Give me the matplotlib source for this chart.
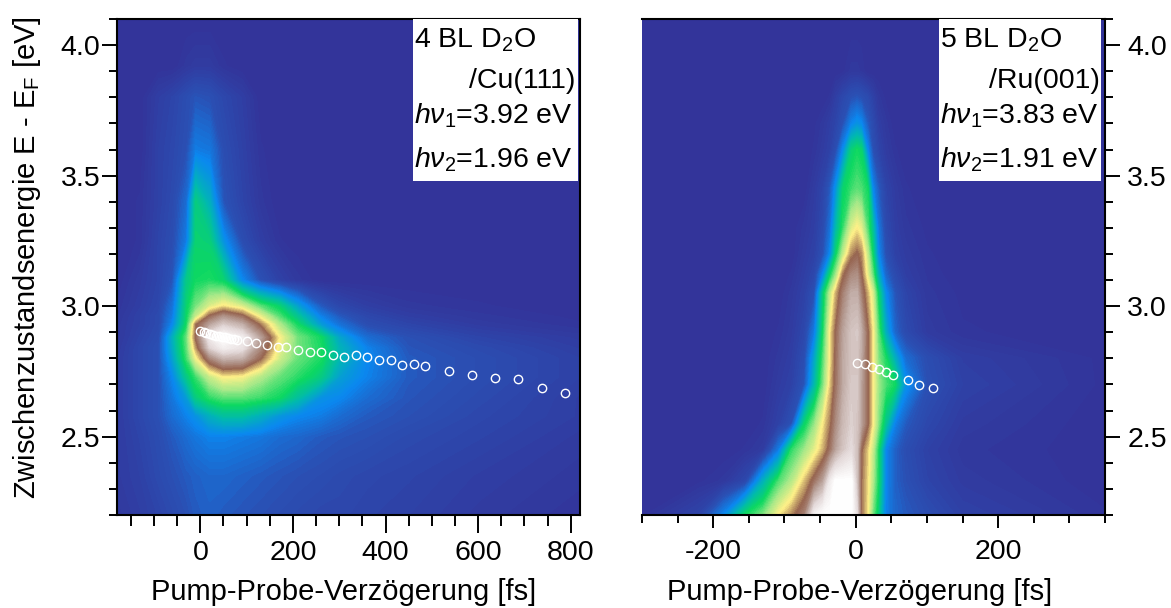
import matplotlib
matplotlib.use('Agg')
import matplotlib.pyplot as plt
import numpy as np
from matplotlib.colors import LinearSegmentedColormap
from matplotlib.patches import Rectangle
from matplotlib.ticker import MultipleLocator

plt.rcParams['font.family'] = ['Liberation Sans', 'DejaVu Sans']
plt.rcParams['mathtext.fontset'] = 'custom'
plt.rcParams['mathtext.rm'] = 'Liberation Sans'
plt.rcParams['mathtext.it'] = 'Liberation Sans:italic'
plt.rcParams['axes.unicode_minus'] = False

# Left panel: 4 BL D2O/Cu(111), intensity levels (0-10)
delay_cu = [-180, -130, -90, -60, -30, -10, 20, 50, 90, 130, 170, 210, 260, 300, 360, 450, 600, 820]
energy_cu = [4.1, 3.92, 3.8, 3.6, 3.4, 3.25, 3.1, 3.0, 2.96, 2.93, 2.88, 2.84, 2.8, 2.73, 2.65, 2.58, 2.5, 2.35, 2.2]
level_cu = [
    [0, 0, 0, 0, 0, 0, 0, 0, 0, 0, 0, 0, 0, 0, 0, 0, 0, 0],
    [0, 0, 0, 0, .2, .3, .3, .1, 0, 0, 0, 0, 0, 0, 0, 0, 0, 0],
    [0, 0, .4, .6, .9, 1.1, 1.0, .7, .4, 0, 0, 0, 0, 0, 0, 0, 0, 0],
    [0, 0, .5, .7, 1.0, 1.8, 1.7, .9, .5, .1, 0, 0, 0, 0, 0, 0, 0, 0],
    [0, .1, .5, .8, 1.5, 3.6, 2.8, 1.1, .6, .2, 0, 0, 0, 0, 0, 0, 0, 0],
    [0, .1, .6, .9, 1.8, 3.8, 3.7, 2.2, .9, .4, .1, 0, 0, 0, 0, 0, 0, 0],
    [0, .3, .6, 1.1, 3.5, 4.0, 4.1, 3.8, 2.0, 1.0, .5, .2, 0, 0, 0, 0, 0, 0],
    [.1, .4, .7, 1.6, 3.8, 4.7, 5.6, 6.1, 5.6, 4.5, 3.8, 2.5, 1.2, .7, .4, .2, .1, 0],
    [.15, .5, .8, 1.8, 3.9, 5.4, 7.1, 7.8, 7.2, 5.8, 4.5, 3.4, 1.9, 1.2, .7, .4, .2, .05],
    [.2, .5, .8, 2.0, 4.0, 6.8, 8.0, 8.7, 8.2, 6.8, 5.2, 4.0, 2.4, 1.6, .9, .6, .3, .1],
    [.2, .6, .9, 2.8, 4.6, 7.0, 9.4, 10, 9.5, 8.0, 6.0, 4.7, 4.0, 2.6, 1.5, 1.0, .6, .3],
    [.25, .7, 1.0, 2.7, 4.5, 6.5, 8.8, 9.5, 9.2, 7.6, 5.8, 4.7, 4.1, 2.9, 1.9, 1.1, .8, .4],
    [.3, .7, 1.0, 2.5, 4.3, 5.8, 7.5, 8.3, 8.2, 7.0, 5.5, 4.6, 4.1, 3.0, 2.0, 1.2, .9, .5],
    [.3, .7, 1.0, 2.0, 3.5, 4.3, 5.4, 6.0, 5.9, 5.2, 4.6, 4.2, 3.6, 2.5, 1.9, 1.2, .9, .5],
    [.3, .7, 1.0, 1.7, 2.4, 3.6, 4.2, 4.5, 4.5, 4.3, 4.0, 3.2, 2.2, 2.0, 1.5, 1.1, .8, .4],
    [.3, .7, 1.0, 1.5, 1.9, 2.2, 2.8, 3.2, 3.2, 2.8, 2.3, 2.0, 1.8, 1.5, 1.2, 1.0, .7, .4],
    [.3, .6, .9, 1.2, 1.5, 1.7, 1.9, 1.9, 1.8, 1.7, 1.5, 1.4, 1.2, 1.1, 1.0, .8, .6, .3],
    [.3, .5, .8, 1.0, 1.2, 1.3, 1.4, 1.4, 1.3, 1.2, 1.1, 1.0, .9, .8, .7, .6, .4, .2],
    [.2, .4, .6, .8, 1.0, 1.2, 1.3, 1.2, 1.1, 1.0, .9, .8, .7, .7, .6, .5, .3, .1],
]

# Right panel: 5 BL D2O/Ru(001)
delay_ru = [-300, -220, -185, -155, -130, -108, -90, -72, -58, -46, -36, -28, -18, -6, 2, 8, 17, 24, 32, 42, 55, 70, 100, 150, 350]
energy_ru = [4.1, 3.9, 3.8, 3.7, 3.6, 3.45, 3.3, 3.2, 3.12, 3.05, 2.9, 2.8, 2.7, 2.55, 2.45, 2.33, 2.2]
level_ru = [
    [0, 0, 0, 0, 0, 0, 0, 0, 0, 0, 0, 0, 0, 0, 0, 0, 0, 0, 0, 0, 0, 0, 0, 0, 0],
    [0, 0, 0, 0, 0, 0, 0, 0, 0, 0, 0, 0, .05, .2, .2, .15, 0, 0, 0, 0, 0, 0, 0, 0, 0],
    [0, 0, 0, 0, 0, 0, 0, 0, 0, 0, .1, .4, .7, 1.0, 1.1, 1.0, .8, .5, .2, .05, 0, 0, 0, 0, 0],
    [0, 0, 0, 0, 0, 0, 0, 0, .05, .2, .4, .6, 1.0, 1.9, 2.2, 2.0, 1.2, .8, .4, .2, 0, 0, 0, 0, 0],
    [0, 0, 0, 0, 0, 0, 0, 0, .1, .3, .5, .9, 2.0, 3.7, 4.0, 3.8, 2.0, 1.0, .6, .3, .1, 0, 0, 0, 0],
    [0, 0, 0, 0, 0, 0, 0, 0, .3, .6, 1.2, 2.2, 3.8, 4.3, 4.5, 4.4, 4.0, 2.0, 1.2, .6, .3, .1, 0, 0, 0],
    [0, 0, 0, 0, 0, 0, 0, .2, .4, .8, 1.6, 3.0, 4.2, 5.6, 6.0, 5.7, 4.4, 3.3, 1.7, .8, .4, .2, .05, 0, 0],
    [0, 0, 0, 0, 0, 0, 0, .3, .5, 1.0, 2.0, 3.8, 5.3, 6.7, 7.0, 6.7, 5.3, 3.9, 2.0, 1.0, .5, .3, .1, 0, 0],
    [0, 0, 0, 0, 0, 0, .1, .4, .7, 2.0, 3.9, 5.0, 6.8, 7.6, 7.7, 7.0, 5.7, 4.6, 2.8, 1.4, .8, .4, .15, 0, 0],
    [0, 0, 0, 0, 0, 0, .2, .5, 1.0, 3.6, 5.3, 6.4, 7.4, 8.2, 8.2, 7.4, 6.4, 5.6, 3.8, 2.1, 1.1, .6, .2, .05, 0],
    [0, 0, 0, 0, 0, .1, .3, .7, 1.8, 4.0, 6.0, 7.0, 8.0, 8.6, 8.7, 8.2, 7.0, 6.0, 4.5, 2.8, 1.4, .8, .3, .1, 0],
    [0, 0, 0, 0, 0, .2, .4, .9, 2.6, 4.4, 6.0, 7.1, 8.1, 8.6, 8.6, 8.1, 7.0, 6.0, 4.8, 4.1, 2.8, 1.5, .9, .4, .05],
    [0, 0, 0, 0, 0, .3, .5, 1.1, 3.0, 4.7, 6.2, 7.2, 8.1, 8.7, 8.7, 8.0, 7.0, 6.0, 5.0, 4.4, 4.0, 2.2, 1.0, .5, .05],
    [0, 0, 0, 0, .1, .5, 1.0, 3.8, 4.9, 6.0, 6.8, 7.6, 8.4, 8.8, 8.6, 8.0, 7.0, 6.0, 4.8, 3.4, 1.9, 1.2, .7, .3, 0],
    [0, 0, 0, .1, .3, 1.8, 4.2, 5.0, 5.7, 6.4, 7.2, 8.0, 8.6, 9.0, 8.5, 7.0, 6.2, 5.4, 4.0, 2.0, 1.3, .9, .5, .2, 0],
    [0, .05, .2, .7, 2.8, 4.4, 5.2, 6.3, 7.2, 8.0, 9.4, 10, 10, 10, 8.5, 6.9, 6.1, 5.2, 4.0, 2.0, 1.3, 1.0, .6, .3, 0],
    [.05, .6, 2.0, 4.0, 4.8, 6.0, 6.7, 7.5, 9.6, 10, 10, 10, 10, 10, 9.0, 6.9, 6.0, 4.7, 3.6, 1.9, 1.4, 1.2, .9, .5, .1],
]

# Peak positions
peak_delay_cu = [0, 7, 13, 20, 27, 33, 40, 47, 53, 60, 67, 73, 80, 100, 121, 145, 167, 186, 212, 236, 261, 286, 311, 336, 361, 386, 412, 436, 461, 486, 537, 587, 637, 687, 737, 787]
peak_energy_cu = [2.903, 2.90, 2.896, 2.894, 2.89, 2.887, 2.885, 2.882, 2.88, 2.877, 2.875, 2.873, 2.871, 2.868, 2.86, 2.851, 2.845, 2.843, 2.831, 2.826, 2.826, 2.813, 2.807, 2.812, 2.804, 2.794, 2.793, 2.776, 2.78, 2.77, 2.75, 2.737, 2.723, 2.721, 2.687, 2.668]
peak_delay_ru = [2, 13, 23, 33, 42, 53, 73, 89, 108]
peak_energy_ru = [2.784, 2.78, 2.768, 2.758, 2.748, 2.738, 2.716, 2.699, 2.687]

# Colour scale of the map
cmap = LinearSegmentedColormap.from_list('twopp', [
    (0.0, '#333399'), (0.1, '#2a50b4'), (0.2, '#0a88f0'), (0.3, '#00b8b0'),
    (0.4, '#0cd860'), (0.5, '#a0e888'), (0.6, '#fff088'), (0.7, '#966450'),
    (0.8, '#b8a098'), (0.9, '#e4dada'), (1.0, '#ffffff')])
levels = np.linspace(0, 10, 121)

W, H = 1171, 608
fig = plt.figure(figsize=(W / 100, H / 100), dpi=100, facecolor='white')
ax1 = fig.add_axes([117 / W, 1 - 515 / H, 463 / W, 496 / H])
ax2 = fig.add_axes([642 / W, 1 - 515 / H, 463 / W, 496 / H])


def draw_panel(ax, delay, energy, level, peak_x, peak_y):
    ax.contourf(delay, energy, np.array(level), levels=levels, cmap=cmap, antialiased=False, zorder=1)
    ax.plot(peak_x, peak_y, 'o', mfc='none', mec='white', ms=6, mew=1, zorder=3)
    ax.set_ylim(2.2, 4.1)
    ax.yaxis.set_major_locator(MultipleLocator(0.5))
    ax.yaxis.set_minor_locator(MultipleLocator(0.1))
    ax.xaxis.set_major_locator(MultipleLocator(200))
    ax.xaxis.set_minor_locator(MultipleLocator(50))
    ax.yaxis.set_major_formatter('{x:.1f}')
    ax.tick_params(axis='y', which='major', length=11, width=1.4, labelsize=20.5)
    ax.tick_params(axis='y', which='minor', length=6, width=1.4)
    ax.tick_params(axis='x', labelsize=20.5)
    for spine in ax.spines.values():
        spine.set_linewidth(1.5)
    ax.set_xlabel('Pump-Probe-Verzögerung [fs]', fontsize=21)


def draw_box(ax, x0, x1, lines):
    ax.add_patch(Rectangle((x0, 3.48), x1 - x0, 0.62, fc='white', ec='none', zorder=4))
    for x, y, s, ha in lines:
        ax.text(x, y, s, ha=ha, va='baseline', fontsize=20.5, color='black', zorder=5)


draw_panel(ax1, delay_cu, energy_cu, level_cu, peak_delay_cu, peak_energy_cu)
ax1.set_xlim(-180, 820)
ax1.xaxis.set_label_coords(0.49, -0.128, transform=ax1.transAxes)
ax1.tick_params(axis='x', which='major', length=13, width=1.4, pad=5)
ax1.tick_params(axis='x', which='minor', length=8, width=1.4)
ax1.tick_params(axis='y', which='major', pad=1)
draw_box(ax1, 459, 815, [
    (461, 3.99, r'4 BL D$_2$O', 'left'),
    (811, 3.835, '/Cu(111)', 'right'),
    (461, 3.70, r'$\mathit{h\nu}_1$=3.92 eV', 'left'),
    (461, 3.53, r'$\mathit{h\nu}_2$=1.96 eV', 'left'),
])

draw_panel(ax2, delay_ru, energy_ru, level_ru, peak_delay_ru, peak_energy_ru)
ax2.set_xlim(-300, 350)
ax2.xaxis.set_label_coords(0.47, -0.128, transform=ax2.transAxes)
ax2.tick_params(axis='x', which='major', length=9.4, width=1.4, pad=8)
ax2.tick_params(axis='x', which='minor', length=5.8, width=1.4)
ax2.yaxis.tick_right()
ax2.tick_params(axis='y', which='major', pad=5)
ax2.spines['left'].set_visible(False)
draw_box(ax2, 116.5, 345, [
    (118, 3.99, r'5 BL D$_2$O', 'left'),
    (343, 3.835, '/Ru(001)', 'right'),
    (118, 3.70, r'$\mathit{h\nu}_1$=3.83 eV', 'left'),
    (118, 3.53, r'$\mathit{h\nu}_2$=1.91 eV', 'left'),
])

fig.text(27 / W, 1 - 258 / H, r'Zwischenzustandsenergie E - E$_\mathrm{F}$ [eV]', rotation=90,
         ha='center', va='center', fontsize=21)

fig.savefig('out.png', dpi=100)
